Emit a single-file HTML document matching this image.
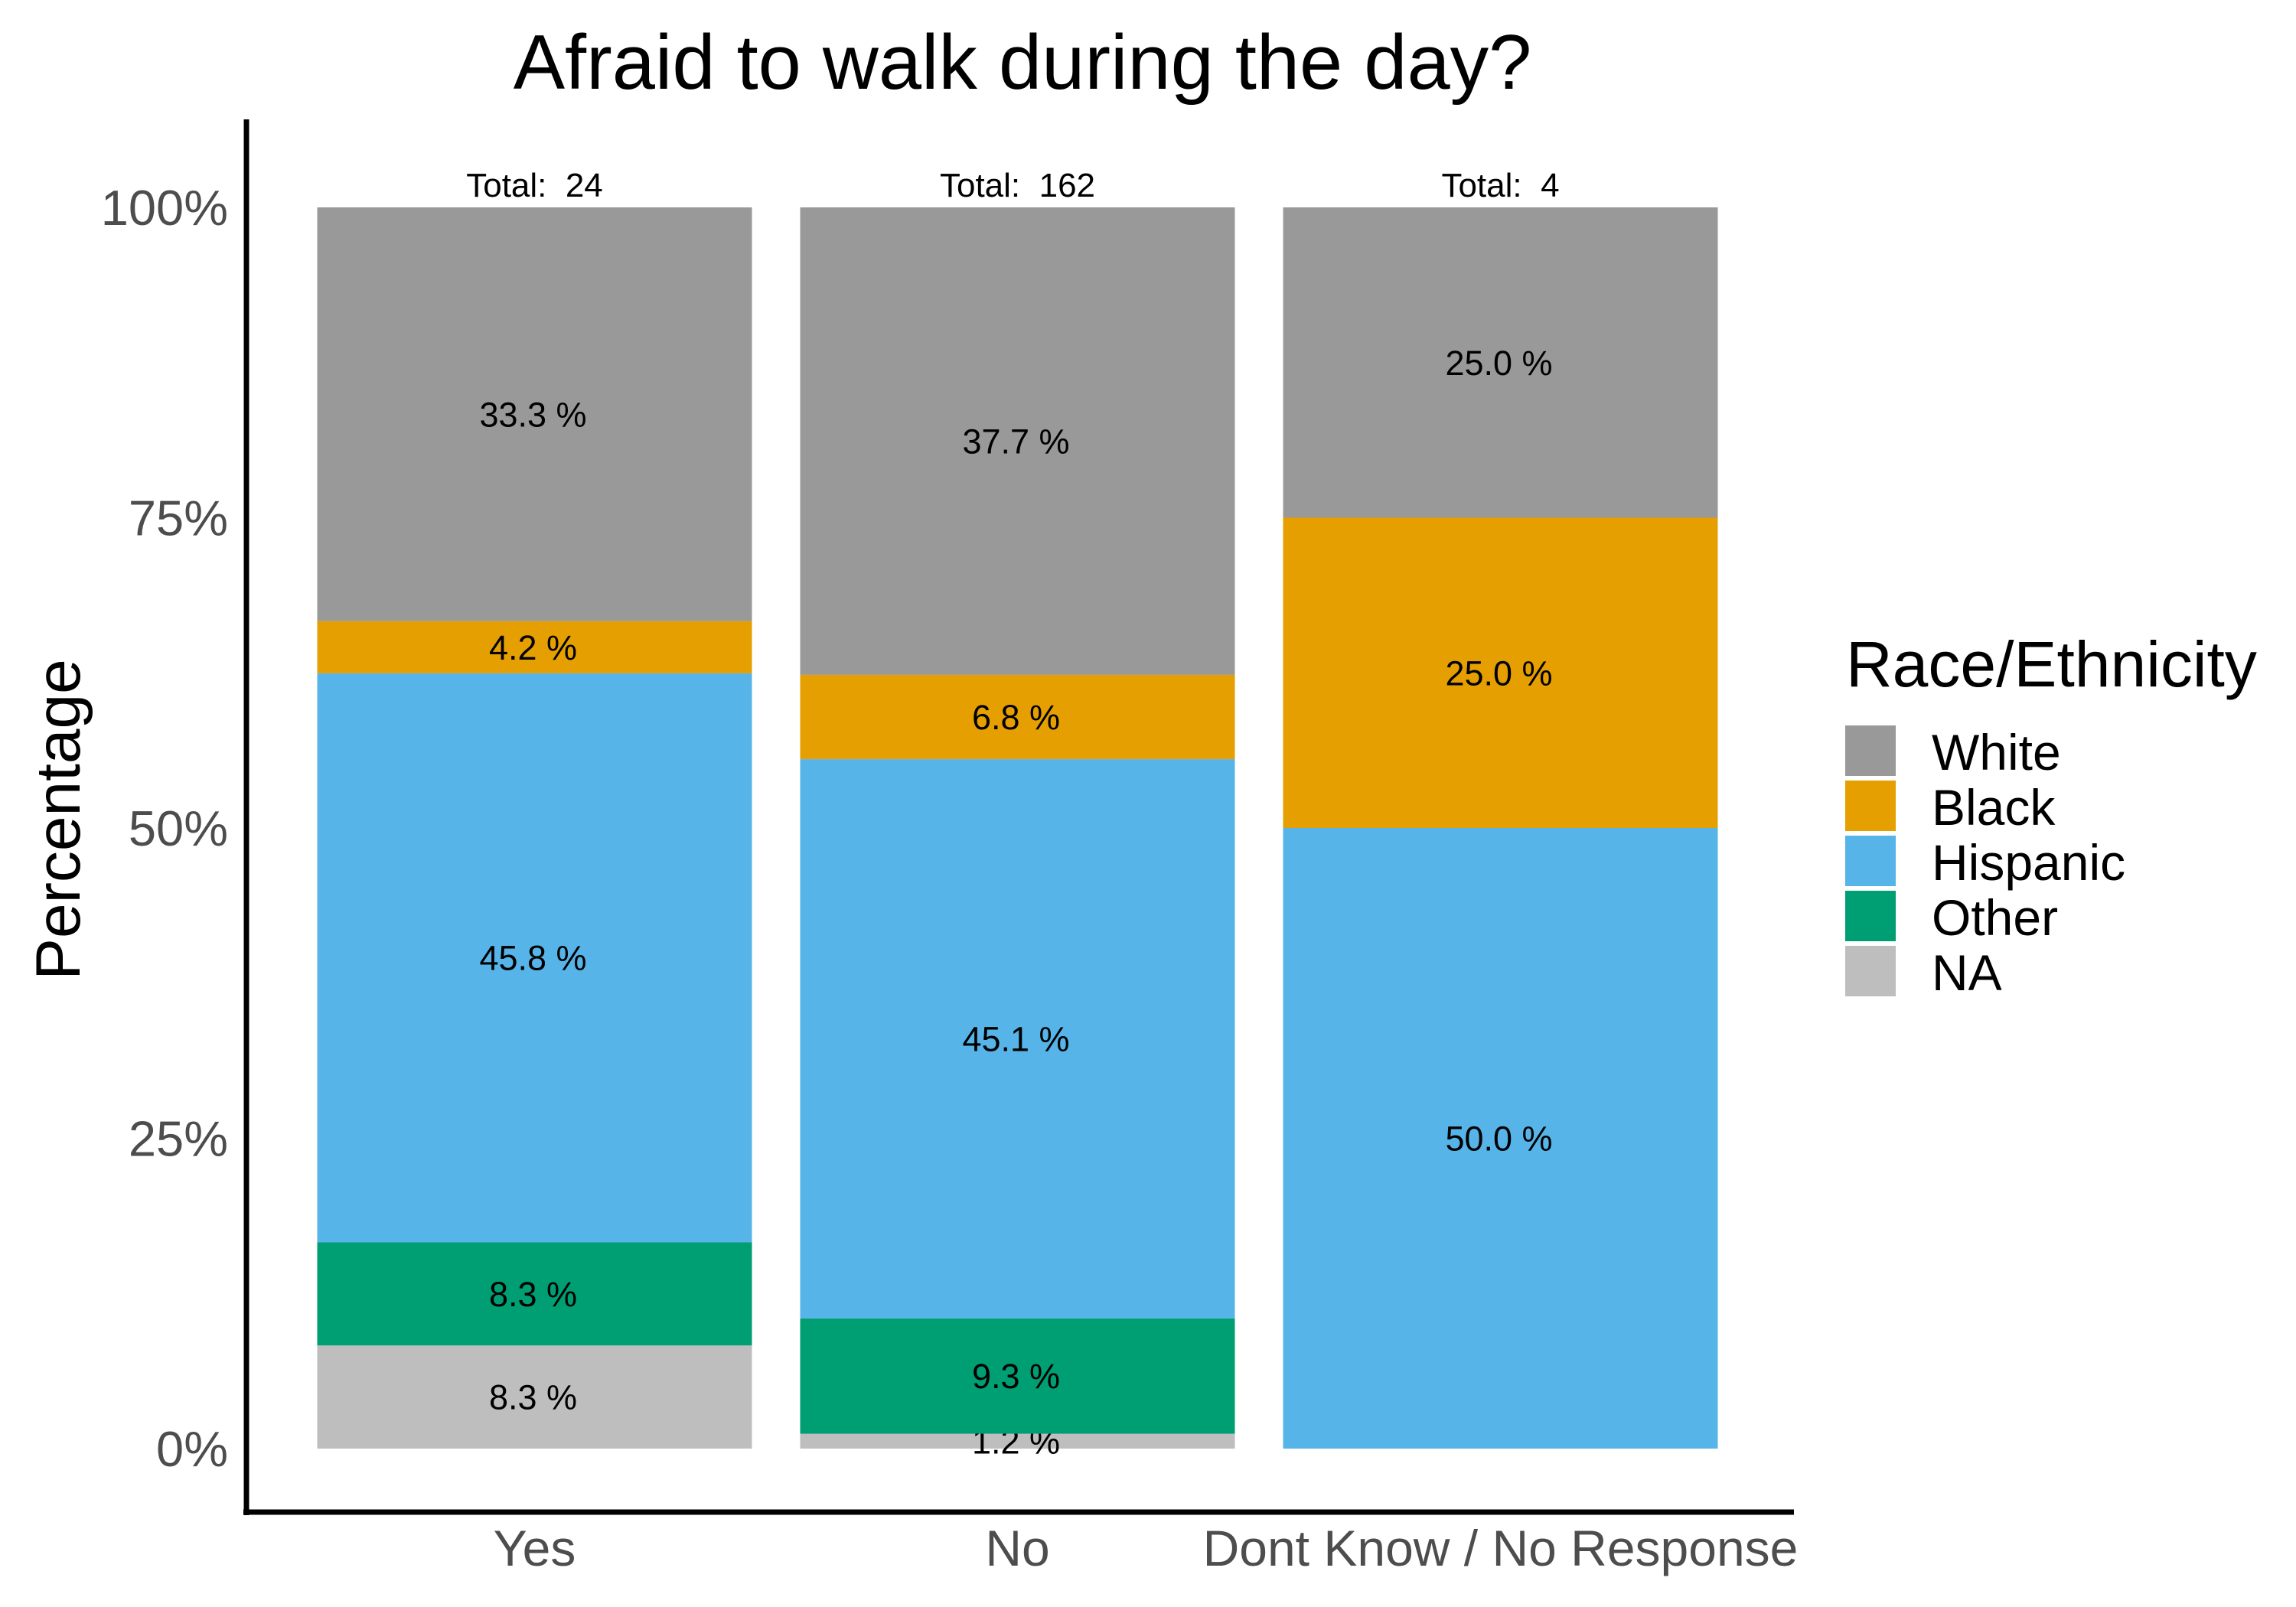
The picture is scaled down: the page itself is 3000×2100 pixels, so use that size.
<!DOCTYPE html>
<html><head><meta charset="utf-8"><style>
html,body{margin:0;padding:0;background:#fff}
svg{display:block;font-family:"Liberation Sans",Arial,sans-serif}
</style></head><body>
<svg id="chart" width="3000" height="2100" viewBox="0 0 3000 2100">
<text x="1336" y="116" font-size="101" text-anchor="middle" fill="#000">Afraid to walk during the day?</text>
<g id="bars"></g>
<g id="yaxis"></g>
<g id="xaxis"></g>
<line x1="322" y1="156" x2="322" y2="1980" stroke="#000" stroke-width="7"/>
<line x1="318" y1="1976" x2="2344" y2="1976" stroke="#000" stroke-width="7"/>
<text transform="translate(104,1071) rotate(-90)" font-size="82" text-anchor="middle" fill="#000">Percentage</text>
<g id="legend">
<text x="2412" y="897" font-size="84" fill="#000">Race/Ethnicity</text>
</g>
</svg>
<script>
const categories = ["Yes", "No", "Dont Know / No Response"];
const totals = [24, 162, 4];
const groups = ["NA", "Other", "Hispanic", "Black", "White"];
const naVals = [8.3, 1.2, 0];
const otherVals = [8.3, 9.3, 0];
const hispanicVals = [45.8, 45.1, 50.0];
const blackVals = [4.2, 6.8, 25.0];
const whiteVals = [33.3, 37.7, 25.0];
const yTicks = [0, 25, 50, 75, 100];
const legendOrder = ["White", "Black", "Hispanic", "Other", "NA"];

const colors = {White:"#999999", Black:"#E69F00", Hispanic:"#56B4E9", Other:"#009E73", NA:"#BEBEBE"};
const series = {NA:naVals, Other:otherVals, Hispanic:hispanicVals, Black:blackVals, White:whiteVals};
const NS = "http://www.w3.org/2000/svg";
const y0 = 1893, y100 = 271;
function yScale(v){ return y0 - (y0 - y100) * v / 100; }
const bandStart = 383, bandStep = 631, barW = 568;
function xCenter(i){ return bandStart + bandStep * i + bandStep / 2; }
function mk(tag, attrs, parent){ const e = document.createElementNS(NS, tag); for (const k in attrs) e.setAttribute(k, attrs[k]); parent.appendChild(e); return e; }

const bars = document.getElementById('bars');
categories.forEach((c, i) => {
  let cum = 0;
  const sum = groups.reduce((s, g) => s + series[g][i], 0);
  groups.forEach(g => {
    const v = series[g][i] * 100 / sum;
    if (series[g][i] > 0) {
      const yt = yScale(cum + v), yb = yScale(cum);
      const r = mk('rect', {x: xCenter(i) - barW/2, y: yt, width: barW, height: yb - yt, fill: colors[g]}, bars);
      
      
      const t = mk('text', {x: xCenter(i) - 2, y: (yt + yb)/2 + 16, 'font-size': 45, 'text-anchor': 'middle', fill: '#000'}, bars);
      t.textContent = series[g][i].toFixed(1) + ' %';
      
      
    }
    cum += v;
  });
  const tt = mk('text', {x: xCenter(i), y: 257, 'font-size': 44, 'text-anchor': 'middle', fill: '#000'}, bars);
  tt.setAttribute('xml:space', 'preserve');
  tt.style.whiteSpace = 'pre';
  tt.textContent = 'Total:\u00a0\u00a0' + totals[i];
  
  
});

const ya = document.getElementById('yaxis');
yTicks.forEach(v => {
  const t = mk('text', {x: 298, y: yScale(v) + 23, 'font-size': 65, 'text-anchor': 'end', fill: '#4d4d4d'}, ya);
  t.textContent = v + '%';
  
  
});
const xa = document.getElementById('xaxis');
categories.forEach((c, i) => {
  const t = mk('text', {x: xCenter(i), y: 2046, 'font-size': 66, 'text-anchor': 'middle', fill: '#4d4d4d'}, xa);
  t.textContent = c;
  
  
});
const lg = document.getElementById('legend');
legendOrder.forEach((g, k) => {
  const r = mk('rect', {x: 2411, y: 948 + 72*k, width: 66, height: 66, fill: colors[g]}, lg);
  
  
  const t = mk('text', {x: 2524, y: 1006 + 72*k, 'font-size': 66, fill: '#000'}, lg);
  t.textContent = g;
  
  
});
</script>
</body></html>
